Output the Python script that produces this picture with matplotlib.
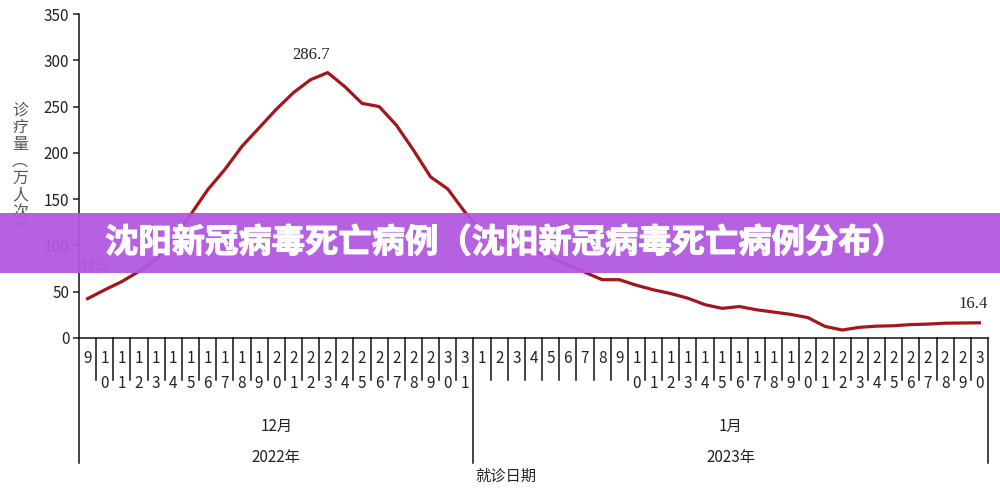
import numpy as np
import matplotlib
matplotlib.use('Agg')
import matplotlib.pyplot as plt
from matplotlib.patches import Rectangle
import matplotlib.patheffects as pe

plt.rcParams['font.family'] = ['Noto Sans CJK SC', 'DejaVu Sans']

# 就诊日期 2022-12-09 .. 2023-01-30
dec_days = list(range(9, 32))
jan_days = list(range(1, 31))
dec_values = [42.5, 52, 61, 72, 85, 107, 133, 160, 182, 207, 227, 247, 265, 279, 286.7,
              271.5, 253.5, 250, 230, 203, 174, 161, 136]
jan_values = [115, 106, 101, 95, 87, 79, 71, 63, 63, 57, 52, 48, 43, 36, 32, 34,
              30.5, 28, 25.5, 22, 12.5, 8.6, 11.5, 12.8, 13.2, 14.5, 15, 16, 16.2, 16.4]
months = ['12月', '1月']
years = ['2022年', '2023年']
y_ticks = [0, 50, 100, 150, 200, 250, 300, 350]

days = dec_days + jan_days
values = dec_values + jan_values
x = np.arange(len(values))

fig = plt.figure(figsize=(10, 4.88), dpi=100)
ax = fig.add_axes([0.079, 0.3074, 0.909, 0.6639])

ax.plot(x, values, color='#a3161c', lw=2.3, solid_joinstyle='round')
ax.set_xlim(-0.5, len(values) - 0.5)
ax.set_ylim(0, 350)
ax.set_yticks(y_ticks)
ax.tick_params(axis='y', length=4, width=1.1, labelsize=11, pad=3, colors='#222222')
ax.set_xticks([])
for s in ['top', 'right']:
    ax.spines[s].set_visible(False)
for s in ['left', 'bottom']:
    ax.spines[s].set_linewidth(1.1)
    ax.spines[s].set_color('#111111')

trans = ax.get_xaxis_transform()
# category boundary ticks
n = len(values)
for k in range(n + 1):
    xb = k - 0.5
    long_line = k in (0, len(dec_days), n)
    y_end = -0.386 if long_line else -0.13
    ax.plot([xb, xb], [0, y_end], color='#111111', lw=1.1, transform=trans, clip_on=False)

# day labels, digits stacked
for i, d in enumerate(days):
    s = str(d)
    ax.text(i, -0.062, s[0], transform=trans, ha='center', va='center', fontsize=11, color='#222222')
    if len(s) > 1:
        ax.text(i, -0.139, s[1], transform=trans, ha='center', va='center', fontsize=11, color='#222222')

centers = [(len(dec_days) - 1) / 2, len(dec_days) + (len(jan_days) - 1) / 2]
for c, m, yr in zip(centers, months, years):
    ax.text(c, -0.272, m, transform=trans, ha='center', va='center', fontsize=11, color='#222222')
    ax.text(c, -0.370, yr, transform=trans, ha='center', va='center', fontsize=11, color='#222222')

ax.text(len(dec_days) - 0.4, -0.428, '就诊日期', transform=trans, ha='left', va='center',
        fontsize=11, color='#222222')

# y label, vertical characters
fig.text(0.020, 0.652, '\n'.join('诊疗量︵万人次︶'), ha='center', va='center',
         fontsize=11.5, color='#555555', linespacing=1.0)

# value labels
serif = 'Liberation Serif'
ax.annotate(f'{values[14]}', xy=(14, values[14]), xytext=(-17, 18), textcoords='offset pixels',
            ha='center', va='center', fontsize=12, family=serif, color='#222222')
ax.annotate(f'{values[0]}', xy=(0, values[0]), xytext=(6, 32), textcoords='offset pixels',
            ha='center', va='center', fontsize=12, family=serif, color='#444444')
ax.annotate(f'{values[-1]}', xy=(n - 1, values[-1]), xytext=(-6, 19), textcoords='offset pixels',
            ha='center', va='center', fontsize=12, family=serif, color='#222222')

# banner overlay
banner = Rectangle((0, 1 - 273 / 488), 1, 60 / 488, transform=fig.transFigure,
                   facecolor='#b257e0', alpha=0.94, edgecolor='none', zorder=10)
fig.add_artist(banner)
fig.text(0.105, 1 - 243 / 488, '沈阳新冠病毒死亡病例（沈阳新冠病毒死亡病例分布）',
         ha='left', va='center', fontsize=24, fontweight='bold', color='white', zorder=11,
         path_effects=[pe.withStroke(linewidth=0.8, foreground='white')])

fig.savefig('out.png', dpi=100, facecolor='white')
